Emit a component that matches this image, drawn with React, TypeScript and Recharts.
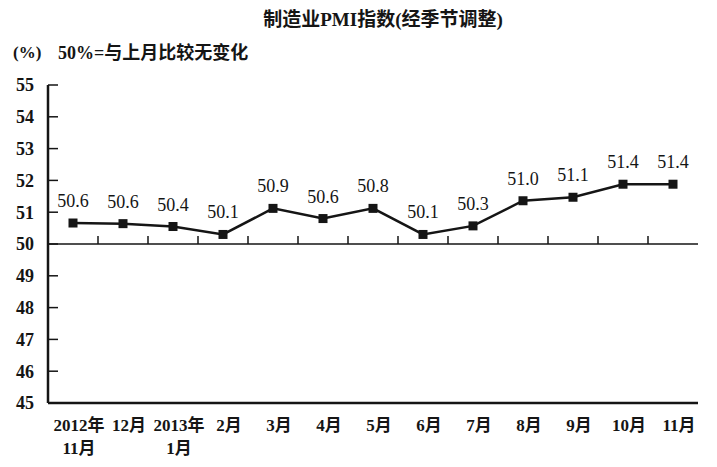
import React from 'react';
import { LineChart, Line, XAxis, YAxis, ReferenceLine, LabelList } from 'recharts';

// 月份（两行的用 \n 分开）
const months = [
  '2012年\n11月', '12月', '2013年\n1月', '2月', '3月', '4月', '5月',
  '6月', '7月', '8月', '9月', '10月', '11月',
];
// 图上折线实际画出的位置
const pmiPlotted = [50.66, 50.64, 50.55, 50.3, 51.12, 50.8, 51.12, 50.3, 50.57, 51.36, 51.47, 51.88, 51.88];
// 图上标注的数值
const pmiLabels = ['50.6', '50.6', '50.4', '50.1', '50.9', '50.6', '50.8', '50.1', '50.3', '51.0', '51.1', '51.4', '51.4'];
const yTicks = [45, 46, 47, 48, 49, 50, 51, 52, 53, 54, 55];

const data = months.map((m, i) => ({ month: m, pmi: pmiPlotted[i], label: pmiLabels[i] }));

const INK = '#151515';
const SERIF = '"Liberation Serif", "Noto Sans CJK SC", serif';

const XTick = (props: any) => {
  const { x, y, payload } = props;
  const lines = String(payload.value).split('\n');
  const cx = Number(x) + 6;
  return (
    <text x={cx} y={y} textAnchor="middle" fontSize={17} fontWeight="bold" fill={INK} fontFamily={SERIF}>
      {lines.map((l, i) => (
        <tspan key={i} x={cx} dy={i === 0 ? 16 : 23}>{l}</tspan>
      ))}
    </text>
  );
};

// 50% 基准线，以及分隔月份的小刻度
const BaseLine = (props: any) => {
  const x1 = Number(props.x1);
  const x2 = Number(props.x2);
  const y1 = Number(props.y1);
  const n = months.length;
  const step = (x2 - x1) / n;
  return (
    <g>
      <line x1={x1} x2={x2} y1={y1} y2={y1} stroke={INK} strokeWidth={1.5} />
      {Array.from({ length: n - 1 }, (_, i) => (
        <line key={i} x1={x1 + step * (i + 1)} x2={x1 + step * (i + 1)} y1={y1} y2={y1 - 8} stroke={INK} strokeWidth={1.5} />
      ))}
    </g>
  );
};

const SquareDot = (props: any) => {
  const { cx, cy } = props;
  return <rect x={cx - 4.5} y={cy - 4.5} width={9} height={9} fill={INK} />;
};

export default function App() {
  return (
    <div style={{ position: 'absolute', left: 0, top: 0, width: 717, height: 467, background: '#fff', fontFamily: SERIF, color: INK }}>
      <div style={{ position: 'absolute', left: 0, width: 766, top: 8, textAlign: 'center', fontSize: 19, fontWeight: 'bold', lineHeight: '24px' }}>
        制造业PMI指数(经季节调整)
      </div>
      <div style={{ position: 'absolute', left: 13, top: 41, fontSize: 17, fontWeight: 'bold', lineHeight: '24px' }}>(%)</div>
      <div style={{ position: 'absolute', left: 58, top: 41, fontSize: 18, fontWeight: 'bold', lineHeight: '24px' }}>
        50%=与上月比较无变化
      </div>
      <LineChart width={717} height={467} data={data} margin={{ top: 85, right: 19, left: 0, bottom: 0 }} style={{ position: 'absolute', left: 0, top: 0 }}>
        <XAxis
          dataKey="month"
          scale="band"
          interval={0}
          height={64}
          tickLine={false}
          tickMargin={6}
          axisLine={{ stroke: INK, strokeWidth: 2.5 }}
          tick={<XTick />}
        />
        <XAxis xAxisId="top" orientation="top" dataKey="month" scale="band" height={0} tick={false} tickLine={false} axisLine={{ stroke: INK, strokeWidth: 2 }} />
        <YAxis
          domain={[45, 55]}
          ticks={yTicks}
          interval={0}
          width={48}
          tickSize={-10}
          tickMargin={24}
          tickLine={{ stroke: INK, strokeWidth: 1.5 }}
          axisLine={{ stroke: INK, strokeWidth: 2.5 }}
          tick={{ fontSize: 18, fontWeight: 'bold', fill: INK, fontFamily: SERIF }}
        />
        <YAxis yAxisId="right" orientation="right" domain={[45, 55]} width={0} tick={false} tickLine={false} axisLine={{ stroke: INK, strokeWidth: 2 }} />
        <ReferenceLine y={50} shape={<BaseLine />} />
        <Line
          type="linear"
          dataKey="pmi"
          stroke={INK}
          strokeWidth={2.5}
          dot={<SquareDot />}
          activeDot={false}
          isAnimationActive={false}
        >
          <LabelList dataKey="label" position="top" offset={16} fontSize={18} fill={INK} fontFamily={SERIF} />
        </Line>
      </LineChart>
    </div>
  );
}
